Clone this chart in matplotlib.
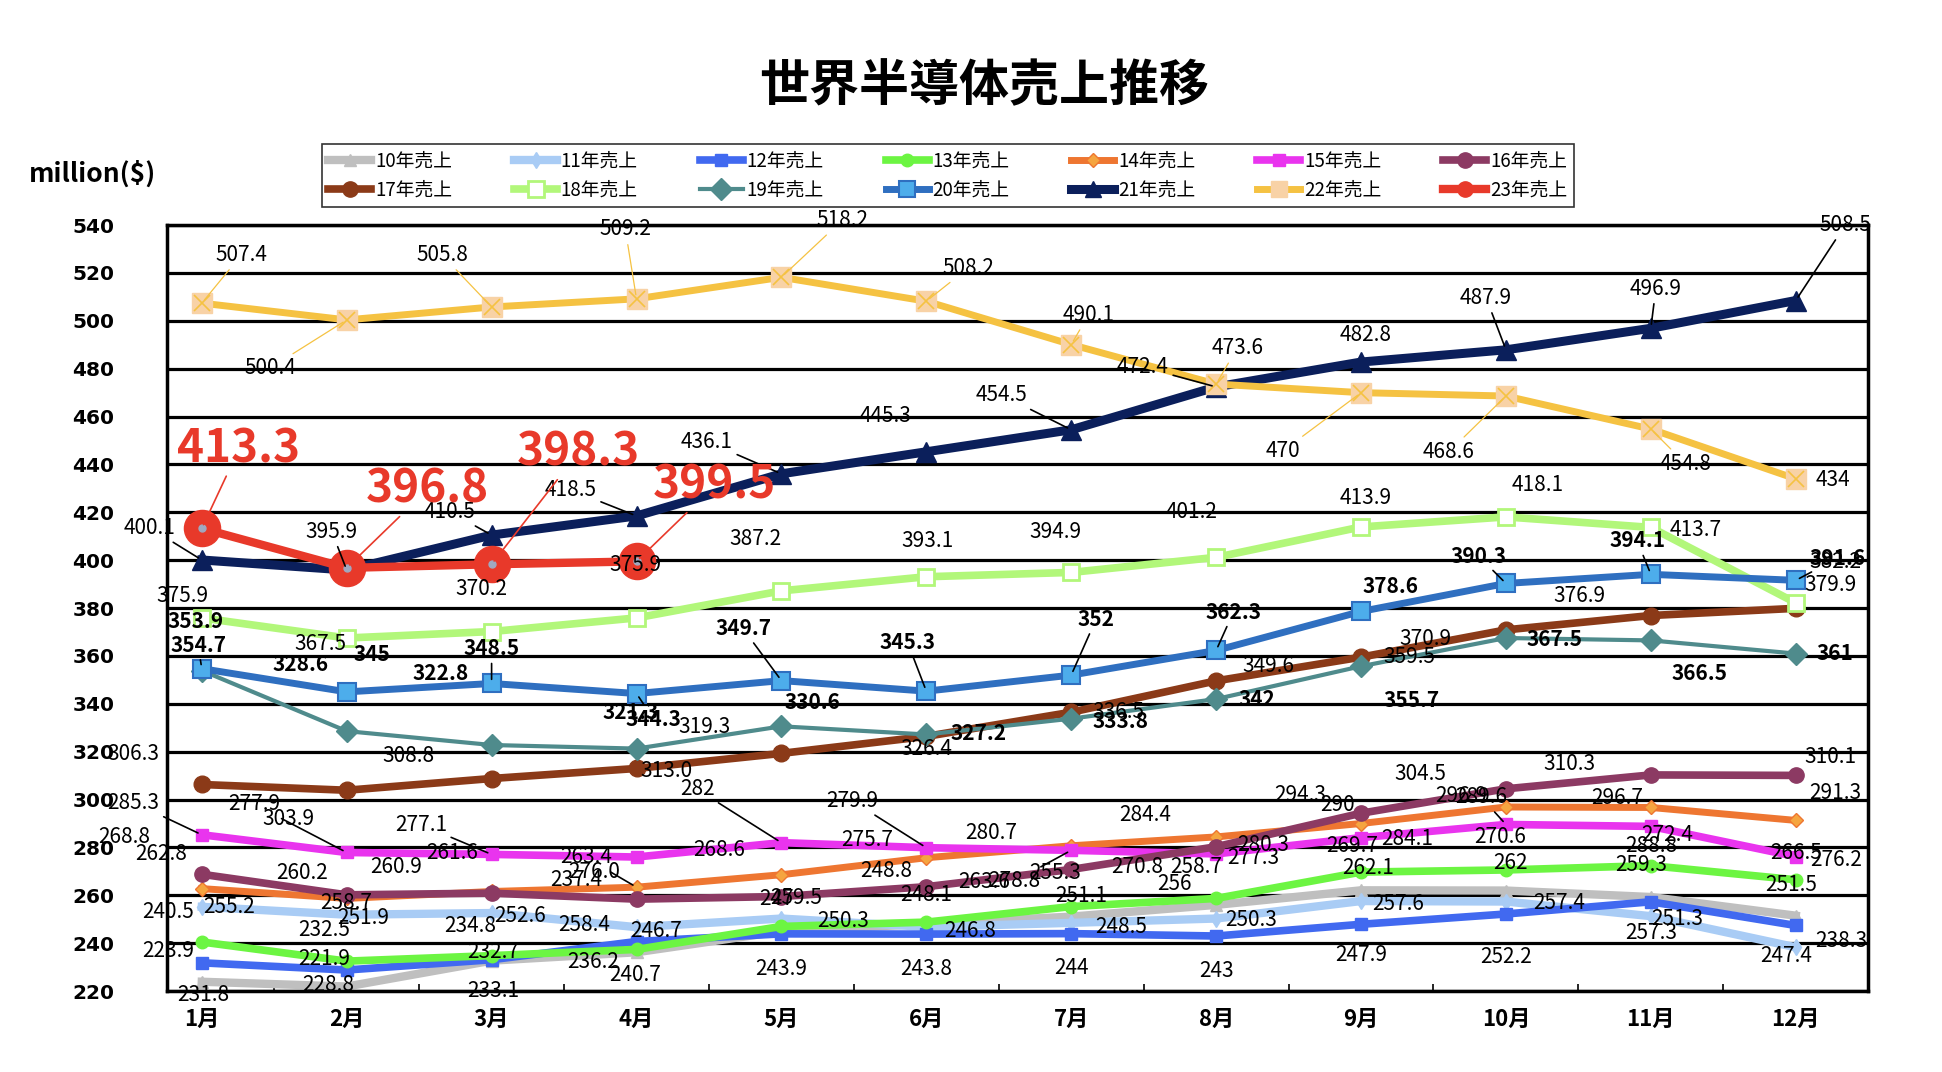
import matplotlib.pyplot as plt
from matplotlib.lines import Line2D

# 月ラベル
months = ['1月', '2月', '3月', '4月', '5月', '6月', '7月', '8月', '9月', '10月', '11月', '12月']

# 各年の売上 (million $)
s10 = [223.9, 221.9, 232.7, 236.2, 245.0, 248.1, 251.1, 256, 262.1, 262, 259.3, 251.5]
s11 = [255.2, 251.9, 252.6, 246.7, 250.3, 246.8, 248.5, 250.3, 257.6, 257.4, 251.3, 238.3]
s12 = [231.8, 228.8, 233.1, 240.7, 243.9, 243.8, 244, 243, 247.9, 252.2, 257.3, 247.4]
s13 = [240.5, 232.5, 234.8, 237.4, 247, 248.8, 255.3, 258.7, 269.7, 270.6, 272.4, 266.5]
s14 = [262.8, 258.7, 261.6, 263.4, 268.6, 275.7, 280.7, 284.4, 290, 296.9, 296.7, 291.3]
s15 = [285.3, 277.9, 277.1, 276.0, 282, 279.9, 278.8, 277.3, 284.1, 289.6, 288.8, 276.2]
s16 = [268.8, 260.2, 260.9, 258.4, 259.5, 263.6, 270.8, 280.3, 294.3, 304.5, 310.3, 310.1]
s17 = [306.3, 303.9, 308.8, 313.0, 319.3, 326.4, 336.5, 349.6, 359.5, 370.9, 376.9, 379.9]
s18 = [375.9, 367.5, 370.2, 375.9, 387.2, 393.1, 394.9, 401.2, 413.9, 418.1, 413.7, 382.2]
s19 = [353.9, 328.6, 322.8, 321.3, 330.6, 327.2, 333.8, 342, 355.7, 367.5, 366.5, 361]
s20 = [354.7, 345, 348.5, 344.3, 349.7, 345.3, 352, 362.3, 378.6, 390.3, 394.1, 391.6]
s21 = [400.1, 395.9, 410.5, 418.5, 436.1, 445.3, 454.5, 472.4, 482.8, 487.9, 496.9, 508.5]
s22 = [507.4, 500.4, 505.8, 509.2, 518.2, 508.2, 490.1, 473.6, 470, 468.6, 454.8, 434]
s23 = [413.3, 396.8, 398.3, 399.5]

# ラベル位置 (参照画像上のピクセル差, 右/下が正)  None = ラベル無し
off10 = [(-27, -25), (-18, -22), (1, -7), (-35, 8), None, (0, -23), (8, -17), (-34, -17), (6, -18), (4, -22), (-8, -26), (-4, -25)]
off11 = [(22, 0), (13, 3), (23, 2), (16, 3), (50, 2), (35, 3), (40, 3), (28, 1), (30, 2), (43, 1), (21, 2), (37, -5)]
off12 = [(1, 26), (-15, 12), (1, 25), (-1, 27), (0, 28), (0, 28), (0, 28), (0, 28), (0, 25), (0, 35), (0, 25), (-8, 25)]
off13 = [(-27, -24), (-18, -25), (-17, -24), (-49, -56), (-4, -22), (-32, -41), (-13, -27), (-16, -25), (-7, -21), (-5, -27), (13, -25), (0, -22)]
off14 = [(-33, -28), (0, 4), (-32, -31), (-41, -24), (-50, -20), (-48, -14), (-65, -10), (-57, -18), (-19, -15), (-36, -9), (-27, -8), (32, -22)]
off15 = [(-55, -26), (-75, -39), (-57, -24), (-34, 12), (-68, -43), (-60, -38), (-46, 25), (30, 3), (37, 1), (-20, -22), (0, 16), (33, 3)]
off16 = [(-63, -30), (-36, -18), (-77, -21), (-42, 21), (12, 1), (47, -4), (53, -2), (38, -1), (-49, -15), (-69, -12), (-66, -9), (28, -15)]
off17 = [(-55, -25), (-47, 23), (-67, -18), (24, 2), (-62, -21), (0, 10), (38, 0), (42, -12), (39, 0), (-65, 7), (-58, -16), (28, -19)]
off18 = [(-16, -18), (-21, 5), (-8, -34), (-1, -43), (-21, -42), (1, -29), (-13, -33), (-20, -37), (4, -23), (26, -26), (36, 2), (32, -33)]
off19 = [(-5, -40), (-37, -54), (-41, -58), (-5, -29), (25, -19), (42, -1), (40, 2), (33, 0), (41, 28), (39, 1), (39, 27), (32, 0)]
off20 = [(-3, -19), (20, -30), (0, -28), (14, 21), (-31, -42), (-15, -39), (20, -45), (14, -31), (24, -20), (-22, -22), (-11, -27), (34, -18)]
off21 = [(-42, -26), (-12, -31), (-34, -19), (-53, -21), (-60, -26), (-33, -29), (-56, -28), (-59, -16), (4, -22), (-16, -42), (4, -32), (40, -61)]
off22 = [(32, -39), (-62, 39), (-40, -42), (-9, -56), (49, -46), (34, -27), (14, -24), (17, -29), (-63, 47), (-46, 45), (28, 28), (30, 1)]
off23 = [(30, -64), (65, -63), (70, -90), (63, -61)]

# 引き出し線のある月
lead15 = [0, 1, 2, 4, 5, 6, 9]
lead14 = [3]
lead20 = [0, 2, 3, 4, 5, 6, 7, 9, 10, 11]
lead21 = [0, 1, 2, 3, 4, 6, 7, 9, 10, 11]
lead22 = [0, 1, 2, 3, 4, 5, 6, 7, 8, 9, 10]
lead23 = [0, 1, 2, 3]

text_override = {('17年', 3): '313.0', ('15年', 3): '276.0'}

PX = 0.8917  # 参照ピクセル -> pt

series = [
    ('10年', s10, off10, [], dict(color='#BFBFBF', lw=6, marker='^', ms=8, mfc='#BFBFBF', mec='#BFBFBF')),
    ('11年', s11, off11, [], dict(color='#A9CCF5', lw=6, marker='d', ms=8, mfc='#A9CCF5', mec='#A9CCF5')),
    ('12年', s12, off12, [], dict(color='#4169F0', lw=5.5, marker='s', ms=9, mfc='#4169F0', mec='#4169F0')),
    ('13年', s13, off13, [], dict(color='#6CF542', lw=5.5, marker='o', ms=9, mfc='#6CF542', mec='#6CF542')),
    ('14年', s14, off14, lead14, dict(color='#EE7631', lw=5, marker='D', ms=7, mfc='#F5A540', mec='#EE7631')),
    ('15年', s15, off15, lead15, dict(color='#E934EE', lw=5.5, marker='s', ms=9, mfc='#E934EE', mec='#E934EE')),
    ('16年', s16, off16, [], dict(color='#8C3A63', lw=5.5, marker='o', ms=11, mfc='#8C3A63', mec='#8C3A63')),
    ('17年', s17, off17, [], dict(color='#8B3A18', lw=5.5, marker='o', ms=12, mfc='#8B3A18', mec='#8B3A18')),
    ('18年', s18, off18, [], dict(color='#B2F77A', lw=5.5, marker='s', ms=12, mfc='white', mec='#B2F77A', mew=2)),
    ('19年', s19, off19, [], dict(color='#4F8B8C', lw=3, marker='D', ms=11, mfc='#4F8B8C', mec='#4F8B8C')),
    ('20年', s20, off20, lead20, dict(color='#2F6FC0', lw=5, marker='s', ms=13, mfc='#4DADEB', mec='#2F6FC0', mew=1.5)),
    ('21年', s21, off21, lead21, dict(color='#0B1F5B', lw=6.5, marker='^', ms=15, mfc='#0B1F5B', mec='#0B1F5B')),
    ('22年', s22, off22, lead22, dict(color='#F5C242', lw=5, marker='s', ms=14, mfc='#F8D2A6', mec='#F8D2A6')),
    ('23年', s23, off23, lead23, dict(color='#E8392A', lw=6, marker='o', ms=26, mfc='#E8392A', mec='#E8392A')),
]

fig = plt.figure(figsize=(19.42, 10.72), dpi=100)
ax = fig.add_axes([0.086, 0.0755, 0.876, 0.7145])

jp = ['Noto Sans CJK JP', 'DejaVu Sans']
legend_handles = []
for k, (name, vals, offs, leads, st) in enumerate(series):
    xs = list(range(len(vals)))
    ax.plot(xs, vals, zorder=2 + k, solid_joinstyle='round', **st)
    if name == '22年':
        ax.plot(xs, vals, ls='none', marker='x', ms=11, mew=1.2, color='#F5C242', zorder=2 + k)
    if name == '23年':
        ax.plot(xs, vals, ls='none', marker='o', ms=5, color='#A0A8C0', zorder=2 + k)

    # 凡例用
    hst = dict(st)
    hst['ms'] = min(hst['ms'], 11)
    legend_handles.append(Line2D([], [], **hst))

    if name == '23年':
        fs, col, wt, lc = 33, '#E8392A', 'bold', '#E8392A'
    elif name in ('19年', '20年'):
        fs, col, wt, lc = 15, 'black', 'bold', 'black'
    else:
        fs, col, wt, lc = 15, 'black', 'normal', 'black'
    if name == '22年':
        lc = '#F5C242'

    for i, v in enumerate(vals):
        if offs[i] is None:
            continue
        dx, dy = offs[i]
        txt = text_override.get((name, i), f'{v:g}')
        arrow = None
        if i in leads:
            arrow = dict(arrowstyle='-', color=lc, lw=1.2 if lc != '#F5C242' else 0.9,
                         shrinkA=1, shrinkB=3)
        ax.annotate(txt, xy=(i, v), xytext=(dx * PX, -dy * PX), textcoords='offset points',
                    ha='center', va='center', fontsize=fs, color=col, fontweight=wt,
                    family=jp, zorder=30, arrowprops=arrow, annotation_clip=False)

# 軸
ax.set_xlim(-0.24, 11.5)
ax.set_ylim(220, 540)
ax.set_yticks(range(220, 541, 20))
ax.set_xticks(range(12))
ax.set_xticklabels(months, fontsize=16, fontweight='bold', family=jp)
ax.set_xticks([i + 0.5 for i in range(11)], minor=True)
ax.tick_params(axis='x', which='major', length=0, pad=12)
ax.tick_params(axis='x', which='minor', direction='in', length=5, width=1.2)
ax.tick_params(axis='y', length=0, pad=38, labelsize=14.5)
for t in ax.get_yticklabels():
    t.set_fontweight('bold')
ax.yaxis.grid(True, color='black', lw=2.3)
ax.set_axisbelow(True)
for sp in ax.spines.values():
    sp.set_linewidth(2.5)
    sp.set_color('black')

# タイトル・単位
fig.text(0.507, 0.919, '世界半導体売上推移', ha='center', va='center', fontsize=36,
         fontweight='bold', family=jp)
fig.text(0.015, 0.838, 'million($)', ha='left', va='center', fontsize=19, fontweight='bold',
         family=jp)

# 凡例 (行優先にするため並べ替え)
labels = [s[0] + '売上' for s in series]
order = []
for c in range(7):
    order += [c, c + 7]
leg = fig.legend([legend_handles[i] for i in order], [labels[i] for i in order],
                 loc='center', bbox_to_anchor=(0.488, 0.836), ncol=7, frameon=True,
                 fancybox=False, edgecolor='black', handlelength=2.3, handletextpad=0.2,
                 columnspacing=3.3, borderpad=0.35, labelspacing=0.4,
                 prop={'family': jp, 'size': 13.5})
leg.get_frame().set_linewidth(1.2)

plt.savefig('out.png', dpi=100)
plt.close()
